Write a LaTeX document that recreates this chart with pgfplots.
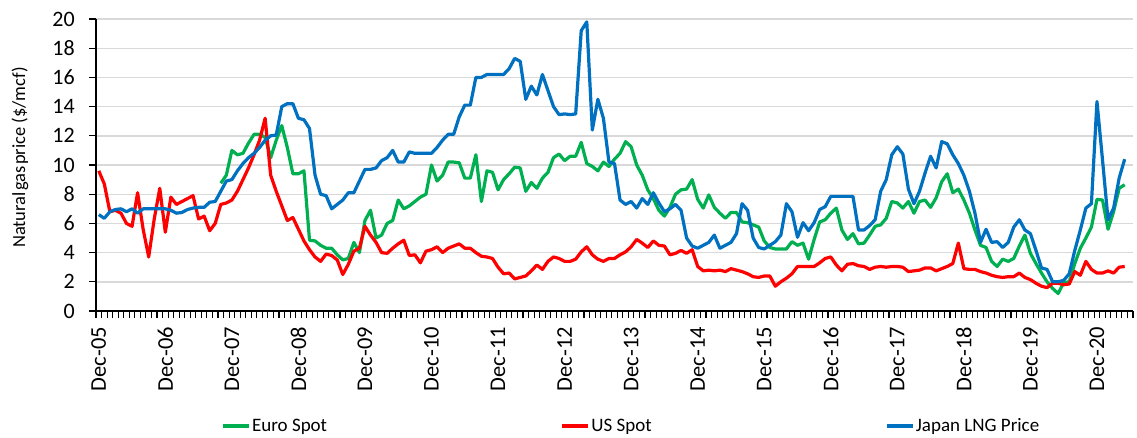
\documentclass[border=0pt]{standalone}
\usepackage{fontspec}
\setmainfont{Carlito}
\usepackage{pgfplots}
\pgfplotsset{compat=1.18}
\usepackage{pgfplotstable}
\usetikzlibrary{calc}
\definecolor{eurogreen}{RGB}{0,176,80}
\definecolor{usred}{RGB}{255,0,0}
\definecolor{jpblue}{RGB}{0,112,192}
\definecolor{gridgray}{RGB}{217,217,217}

% month index: 0 = Dec-05, 1 = Jan-06, ...
\pgfplotstableread{
m v
22 8.75
23 9.3
24 11.0
25 10.7
26 10.8
27 11.5
28 12.1
29 12.1
30 11.9
31 10.5
32 11.7
33 12.7
34 11.2
35 9.4
36 9.4
37 9.6
38 4.85
39 4.8
40 4.5
41 4.3
42 4.3
43 3.85
44 3.5
45 3.6
46 4.7
47 4.0
48 6.2
49 6.9
50 5.0
51 5.2
52 6.0
53 6.2
54 7.6
55 7.0
56 7.2
57 7.5
58 7.8
59 8.0
60 10.0
61 8.9
62 9.3
63 10.2
64 10.2
65 10.15
66 9.1
67 9.1
68 10.7
69 7.5
70 9.6
71 9.5
72 8.3
73 9.0
74 9.4
75 9.85
76 9.8
77 8.2
78 8.8
79 8.4
80 9.1
81 9.5
82 10.5
83 10.75
84 10.3
85 10.6
86 10.6
87 11.55
88 10.1
89 9.9
90 9.6
91 10.2
92 9.9
93 10.4
94 10.8
95 11.6
96 11.25
97 10.0
98 9.3
99 8.3
100 7.7
101 6.9
102 6.5
103 7.1
104 8.0
105 8.3
106 8.35
107 9.0
108 7.65
109 7.05
110 7.95
111 7.1
112 6.7
113 6.35
114 6.75
115 6.75
116 6.1
117 6.05
118 5.9
119 5.75
120 4.8
121 4.35
122 4.25
123 4.25
124 4.25
125 4.75
126 4.5
127 4.65
128 3.55
129 4.9
130 6.1
131 6.25
132 6.7
133 7.05
134 5.55
135 4.9
136 5.3
137 4.6
138 4.65
139 5.2
140 5.8
141 5.9
142 6.35
143 7.5
144 7.4
145 7.05
146 7.5
147 6.7
148 7.5
149 7.6
150 7.1
151 7.75
152 8.85
153 9.4
154 8.1
155 8.35
156 7.6
157 6.7
158 5.55
159 4.5
160 4.35
161 3.4
162 3.05
163 3.55
164 3.4
165 3.6
166 4.45
167 5.2
168 3.95
169 3.25
170 2.6
171 2.0
172 1.55
173 1.2
174 1.95
175 2.0
176 3.25
177 4.3
178 5.0
179 5.75
180 7.65
181 7.6
182 5.6
183 6.8
184 8.4
185 8.65
}\tabEuro

\pgfplotstableread{
m v
0 9.6
1 8.7
2 6.8
3 6.9
4 6.7
5 6.0
6 5.8
7 8.1
8 5.6
9 3.7
10 6.3
11 8.4
12 5.4
13 7.8
14 7.3
15 7.5
16 7.7
17 7.9
18 6.3
19 6.5
20 5.5
21 6.0
22 7.3
23 7.4
24 7.6
25 8.2
26 9.0
27 9.8
28 10.7
29 11.7
30 13.2
31 9.3
32 8.2
33 7.2
34 6.2
35 6.4
36 5.6
37 4.8
38 4.2
39 3.7
40 3.4
41 3.9
42 3.8
43 3.5
44 2.5
45 3.2
46 4.1
47 4.3
48 5.8
49 5.2
50 4.7
51 4.0
52 3.95
53 4.3
54 4.6
55 4.85
56 3.8
57 3.85
58 3.3
59 4.1
60 4.2
61 4.4
62 4.0
63 4.3
64 4.45
65 4.6
66 4.3
67 4.3
68 4.0
69 3.75
70 3.7
71 3.6
72 3.0
73 2.55
74 2.6
75 2.2
76 2.3
77 2.4
78 2.75
79 3.15
80 2.85
81 3.4
82 3.7
83 3.6
84 3.4
85 3.4
86 3.55
87 4.05
88 4.4
89 3.85
90 3.55
91 3.4
92 3.6
93 3.6
94 3.85
95 4.05
96 4.4
97 4.9
98 4.65
99 4.35
100 4.8
101 4.5
102 4.45
103 3.85
104 3.95
105 4.15
106 3.95
107 4.2
108 3.05
109 2.75
110 2.8
111 2.75
112 2.8
113 2.7
114 2.9
115 2.8
116 2.7
117 2.55
118 2.35
119 2.3
120 2.4
121 2.4
122 1.7
123 2.0
124 2.25
125 2.55
126 3.05
127 3.05
128 3.05
129 3.05
130 3.3
131 3.6
132 3.7
133 3.15
134 2.75
135 3.2
136 3.25
137 3.1
138 3.05
139 2.85
140 3.0
141 3.05
142 3.0
143 3.05
144 3.05
145 3.0
146 2.7
147 2.75
148 2.8
149 2.95
150 2.95
151 2.75
152 2.9
153 3.05
154 3.25
155 4.65
156 2.9
157 2.85
158 2.85
159 2.7
160 2.6
161 2.45
162 2.35
163 2.3
164 2.35
165 2.35
166 2.6
167 2.3
168 2.15
169 1.9
170 1.7
171 1.6
172 1.9
173 1.9
174 1.8
175 1.85
176 2.7
177 2.45
178 3.4
179 2.85
180 2.6
181 2.6
182 2.75
183 2.6
184 3.0
185 3.05
}\tabUS

\pgfplotstableread{
m v
0 6.6
1 6.35
2 6.8
3 6.95
4 7.0
5 6.8
6 7.0
7 6.7
8 7.0
9 7.0
10 7.0
11 7.0
12 7.0
13 6.9
14 6.7
15 6.75
16 6.95
17 7.05
18 7.1
19 7.1
20 7.45
21 7.5
22 8.2
23 8.9
24 9.0
25 9.6
26 10.1
27 10.5
28 10.8
29 11.2
30 11.7
31 12.0
32 12.05
33 14.0
34 14.2
35 14.2
36 13.2
37 13.1
38 12.5
39 9.3
40 8.0
41 7.9
42 7.0
43 7.3
44 7.6
45 8.1
46 8.1
47 8.9
48 9.7
49 9.7
50 9.8
51 10.3
52 10.5
53 11.0
54 10.2
55 10.2
56 10.9
57 10.8
58 10.8
59 10.8
60 10.8
61 11.2
62 11.7
63 12.1
64 12.1
65 13.3
66 14.1
67 14.1
68 16.0
69 16.0
70 16.2
71 16.2
72 16.2
73 16.2
74 16.6
75 17.3
76 17.1
77 14.5
78 15.4
79 14.8
80 16.2
81 15.1
82 14.0
83 13.45
84 13.5
85 13.45
86 13.5
87 19.2
88 19.8
89 12.4
90 14.5
91 13.2
92 10.2
93 10.1
94 7.6
95 7.3
96 7.5
97 7.05
98 7.7
99 7.3
100 8.1
101 7.4
102 6.8
103 7.0
104 7.3
105 6.9
106 5.0
107 4.45
108 4.3
109 4.5
110 4.7
111 5.2
112 4.3
113 4.5
114 4.7
115 5.3
116 7.35
117 6.9
118 5.0
119 4.35
120 4.25
121 4.5
122 4.75
123 5.2
124 7.35
125 6.8
126 5.05
127 6.05
128 5.5
129 6.05
130 6.95
131 7.15
132 7.85
133 7.85
134 7.85
135 7.85
136 7.85
137 5.55
138 5.55
139 5.85
140 6.25
141 8.2
142 9.0
143 10.7
144 11.25
145 10.75
146 8.35
147 7.35
148 8.2
149 9.45
150 10.6
151 9.8
152 11.6
153 11.45
154 10.7
155 10.1
156 9.3
157 8.2
158 6.7
159 4.7
160 5.6
161 4.7
162 4.75
163 4.35
164 4.7
165 5.75
166 6.25
167 5.55
168 5.3
169 4.15
170 2.95
171 2.85
172 2.0
173 2.0
174 2.1
175 2.55
176 4.15
177 5.55
178 7.05
179 7.35
180 14.35
181 10.35
182 6.25
183 7.05
184 9.1
185 10.4
}\tabJP

\begin{document}
\begin{tikzpicture}
\begin{axis}[
  scale only axis,
  width=1037pt, height=292pt,
  xmin=-0.5, xmax=186.5,
  ymin=0, ymax=20,
  axis lines=left,
  axis line style={-, black, line width=1.3pt},
  ytick={0,2,...,20},
  xtick={-0.5,0.5,...,186.5},
  xticklabels={},
  tick align=outside,
  major tick length=7pt,
  tick style={black, line width=1.1pt},
  ymajorgrids=true,
  xmajorgrids=false,
  grid style={gridgray, line width=1.4pt},
  /pgf/number format/assume math mode=true,
  yticklabel style={font=\fontsize{22}{26}\selectfont, anchor=east, inner sep=0pt},
  yticklabel shift=14pt,
  extra x ticks={0,12,...,180},
  extra x tick labels={Dec-05,Dec-06,Dec-07,Dec-08,Dec-09,Dec-10,Dec-11,Dec-12,Dec-13,Dec-14,Dec-15,Dec-16,Dec-17,Dec-18,Dec-19,Dec-20},
  extra x tick style={major tick length=0pt, grid=none,
    xticklabel style={font=\fontsize{22.5}{26}\selectfont, inner sep=0pt, anchor=east, rotate=90}},
  xticklabel shift=15.7pt,
  ylabel={Natural\hspace{0.08em}gas\hspace{0.08em}price (\$/mcf)},
  ylabel style={font=\fontsize{18.5}{22}\selectfont, at={(axis description cs:-0.0733,0.526)}, anchor=center},
  legend columns=3,
  legend style={at={(0.516,-0.394)}, anchor=center, draw=none, fill=none,
    font=\fontsize{19}{23}\selectfont,
    nodes={inner sep=1.5pt},
    /tikz/every even column/.append style={column sep=232pt}},
  legend image code/.code={\draw[#1] (0pt,0pt) -- (26pt,0pt);},
  every axis plot/.append style={line width=3.2pt, line join=round, no markers},
]
\coordinate (bl) at (rel axis cs:0,0);
\coordinate (tr) at (rel axis cs:1,1);
\addplot[eurogreen] table[x=m, y=v] {\tabEuro};
\addlegendentry{Euro Spot}
\addplot[usred] table[x=m, y=v] {\tabUS};
\addlegendentry{US Spot}
\addplot[jpblue] table[x=m, y=v] {\tabJP};
\addlegendentry{Japan LNG Price}
\end{axis}
\pgfresetboundingbox
\path[use as bounding box] ($(bl)+(-96pt,-126pt)$) rectangle ($(tr)+(4pt,19pt)$);
\end{tikzpicture}
\end{document}
